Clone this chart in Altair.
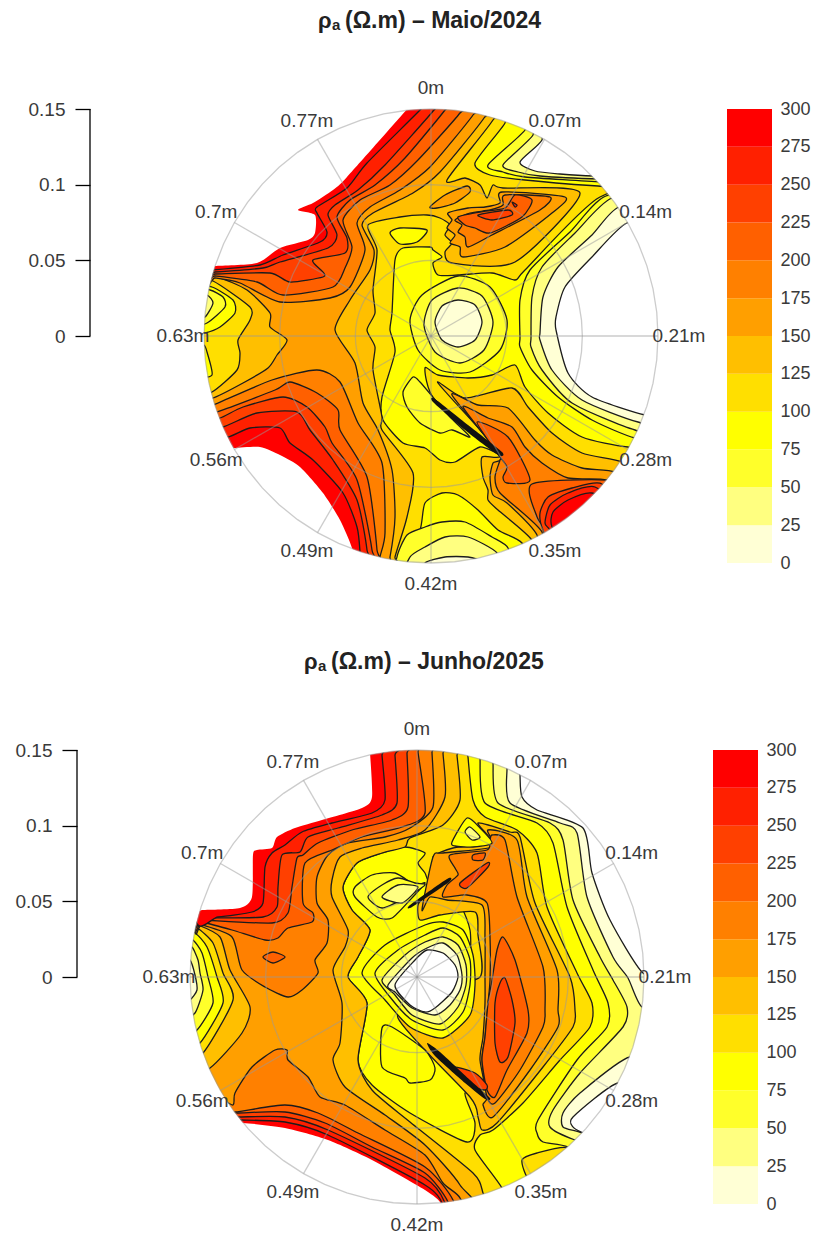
import math
import altair as alt
import pandas as pd

# picture reading: 227 units of the picture = 0.15 m of radius
K = 0.15 / 227
LEVELS = list(range(0, 300, 25))
COLORS = ["#FFFFD5", "#FFFF80", "#FFFF2A", "#FFFF00", "#FFDF00", "#FFBF00",
          "#FF9F00", "#FF8000", "#FF6000", "#FF4000", "#FF2000", "#FF0000"]
BAND = dict(zip(LEVELS, COLORS))
BAND[-25] = "#FFFFFF"
BAND[999] = "#111111"
SPOKE_LABELS = ["0m", "0.07m", "0.14m", "0.21m", "0.28m", "0.35m",
                "0.42m", "0.49m", "0.56m", "0.63m", "0.7m", "0.77m"]
Y_TICKS = [0, 0.05, 0.1, 0.15]
CB_TICKS = list(range(0, 325, 25))

# contour outlines: (band lower level, outlined?, vertices)
MAY = [
 (100, 0, [(200,105),(662,105),(662,567),(200,567)]),
 (75, 1, [(600,197),(525,270),(515,280),(492,273),(458,275),(438,275),(433,263),(442,257),(433,250),(430,247),(403,248),(395,260),(392,313),(390,330),(395,352),(382,397),(383,420),(403,443),(425,448),(440,460),(455,462),(480,447),(500,453),(435,400),(425,368),(438,375),(468,378),(492,375),(515,365),(525,387),(548,413),(582,437),(628,447),(670,447),(670,197)]),
 (75, 1, [(505,123),(475,163),(490,175),(525,180),(598,186),(640,186),(640,105),(505,105)]),
 (75, 1, [(403,557),(420,530),(425,503),(442,493),(458,495),(478,510),(498,530),(522,543),(535,575),(395,575)]),
 (50, 1, [(397,557),(407,535),(425,527),(442,522),(465,522),(492,537),(508,548),(510,575),(400,575)]),
 (25, 1, [(410,557),(425,547),(445,537),(468,537),(497,553),(497,575),(410,575)]),
 (0, 1, [(425,563),(445,557),(468,557),(483,562),(483,575),(425,575)]),
 (50, 1, [(525,130),(488,165),(503,172),(525,177),(602,182),(640,182),(640,110),(525,110)]),
 (25, 1, [(533,135),(503,165),(518,172),(540,176),(600,179),(640,179),(640,112),(533,112)]),
 (-25, 1, [(542,140),(520,162),(535,171),(560,174),(593,176),(640,176),(640,115),(542,115)]),
 (125, 1, [(493,120),(447,180),(465,178),(480,185),(487,198),(493,185),(503,188),(580,193),(515,262),(452,263),(445,252),(452,243),(445,235),(450,225),(440,218),(427,215),(400,217),(368,225),(377,250),(373,290),(375,313),(367,330),(375,347),(373,370),(382,417),(382,430),(413,473),(407,517),(395,557),(395,570),(205,565),(205,105),(493,105)]),
 (125, 1, [(438,383),(465,398),(512,388),(528,407),(552,433),(582,453),(622,462),(640,480),(590,560),(540,570),(532,540),(498,510),(488,500),(488,490),(483,477),(482,457),(500,453)]),
 (75, 1, [(390,233),(400,228),(427,230),(417,242),(400,244)]),
 (150, 1, [(484,118),(440,172),(413,193),(373,213),(362,225),(374,250),(370,270),(350,300),(335,330),(355,363),(363,403),(378,430),(392,470),(395,517),(390,557),(385,572),(205,565),(205,105),(484,105)]),
 (150, 1, [(430,207),(445,195),(467,186),(470,192),(455,203),(437,208)]),
 (150, 1, [(452,395),(478,405),(508,408),(535,440),(552,455),(582,468),(615,472),(640,490),(590,565),(540,570),(537,535),(507,503),(493,495),(490,477),(493,463),(500,455)]),
 (125, 1, [(217,277),(247,290),(270,313),(270,327),(287,340),(277,355),(268,368),(243,383),(213,398),(195,398),(195,277)]),
 (100, 1, [(213,281),(250,307),(250,320),(238,340),(240,353),(237,370),(212,392),(195,392),(195,281)]),
 (75, 1, [(212,287),(233,300),(235,313),(220,327),(205,333),(195,333),(195,287)]),
 (75, 1, [(204,345),(207,352),(212,375),(195,375),(195,345)]),
 (50, 1, [(210,290),(223,297),(225,307),(207,323),(195,323),(195,290)]),
 (25, 1, [(207,295),(213,303),(205,317),(195,317),(195,295)]),
 (175, 1, [(473,115),(430,167),(400,190),(370,207),(357,223),(365,250),(350,287),(330,298),(280,302),(240,283),(215,278),(205,278),(205,105),(473,105)]),
 (175, 1, [(213,405),(272,380),(317,370),(340,382),(358,423),(382,463),(385,533),(380,557),(380,570),(205,565),(205,405)]),
 (175, 1, [(463,407),(488,418),(512,427),(525,447),(542,463),(568,478),(607,480),(640,500),(600,565),(540,570),(542,532),(500,493),(495,477),(500,460),(500,455)]),
 (150, 1, [(502,192),(565,197),(552,213),(505,247),(463,257),(460,247),(450,243),(455,235),(447,228),(452,220),(448,213),(468,208),(485,207),(500,203)]),
 (175, 1, [(505,195),(550,197),(540,210),(492,235),(468,247),(465,237),(458,232),(462,225),(455,220),(470,213),(490,210),(503,205)]),
 (200, 1, [(515,195),(532,200),(522,217),(490,233),(475,228),(465,225),(458,217),(480,212),(505,208)]),
 (225, 1, [(478,215),(508,210),(512,215),(492,220)]),
 (250, 1, [(512,202),(517,205),(515,207)]),
 (200, 1, [(460,113),(418,160),(390,185),(360,200),(343,220),(352,247),(345,268),(333,287),(283,295),(257,282),(215,276),(205,276),(205,105),(460,105)]),
 (225, 1, [(445,110),(405,158),(375,185),(350,200),(337,217),(347,238),(345,253),(313,260),(323,272),(323,277),(290,282),(270,273),(215,274),(205,274),(205,105),(445,105)]),
 (250, 1, [(434,110),(385,165),(358,190),(335,205),(328,215),(337,235),(328,248),(280,262),(263,268),(215,272),(205,272),(205,105),(434,105)]),
 (275, 1, [(422,108),(367,163),(347,188),(317,207),(317,213),(327,232),(320,242),(283,255),(260,265),(213,270),(205,270),(205,105),(422,105)]),
 (-25, 0, [(408,108),(347,177),(333,190),(313,203),(298,210),(315,215),(315,233),(308,240),(280,248),(257,263),(215,266),(205,266),(205,105),(408,105)]),
 (200, 1, [(217,412),(275,390),(290,382),(317,393),(338,410),(340,430),(367,477),(377,550),(375,570),(205,565),(205,412)]),
 (225, 1, [(220,418),(243,407),(283,397),(307,407),(325,427),(332,443),(357,480),(372,550),(370,570),(205,565),(205,418)]),
 (250, 1, [(223,427),(257,413),(297,412),(310,430),(333,460),(357,500),(367,550),(365,570),(205,565),(205,427)]),
 (275, 1, [(228,437),(250,428),(280,428),(290,443),(313,460),(343,493),(357,527),(360,552),(360,570),(205,565),(205,437)]),
 (-25, 0, [(233,448),(260,447),(280,455),(300,467),(323,493),(340,520),(352,548),(355,570),(205,565),(205,448)]),
 (200, 1, [(477,422),(508,437),(530,480),(507,483),(503,477),(507,467),(497,453)]),
 (200, 1, [(532,484),(607,480),(650,490),(600,565),(540,570),(545,532),(537,517)]),
 (225, 1, [(602,484),(572,488),(548,497),(540,513),(543,530),(560,560),(620,520)]),
 (250, 1, [(595,487),(568,493),(550,505),(545,523),(550,530),(565,555),(620,515)]),
 (275, 1, [(592,493),(568,500),(553,512),(552,527),(570,550),(620,510)]),
 (50, 1, [(458,276),(490,287),(507,320),(500,350),(470,372),(440,370),(418,350),(410,320),(422,295)]),
 (25, 1, [(458,288),(482,296),(493,322),(484,350),(460,363),(435,352),(424,325),(432,300)]),
 (0, 1, [(458,300),(475,305),(482,322),(475,340),(458,347),(442,340),(435,322),(442,306)]),
 (50, 1, [(403,392),(413,377),(420,382),(437,402),(450,417),(470,437),(452,430),(440,433),(420,423),(407,407)]),
 (999, 0, [(435,399),(468,425),(502,452),(498,455),(465,430),(433,402)]),
 (50, 1, [(606,196),(570,232),(530,270),(520,300),(520,338),(520,347),(532,370),(558,397),(592,420),(635,438),(670,438),(670,197)]),
 (25, 1, [(612,198),(575,233),(542,267),(532,297),(531,338),(531,347),(542,370),(572,403),(635,430),(670,430),(670,198)]),
 (0, 1, [(619,207),(592,235),(558,267),(543,297),(540,333),(540,340),(552,370),(582,400),(638,422),(670,422),(670,207)]),
 (-25, 1, [(627,223),(592,257),(565,287),(556,317),(556,330),(568,373),(592,397),(645,415),(670,415),(670,223)]),
]

JUN = [
 (100, 0, [(186,746),(648,746),(648,1208),(186,1208)]),
 (75, 1, [(447,880),(470,930),(470,1000),(487,1097),(465,1093),(475,1123),(467,1142),(410,1113),(372,1085),(358,1060),(367,1003),(348,977),(358,957),(370,930),(352,910),(343,887),(357,863),(382,853),(405,847),(425,853),(418,863),(425,873),(430,883)]),
 (75, 1, [(468,757),(473,800),(485,817),(517,830),(537,853),(547,907),(577,973),(592,1003),(590,1027),(560,1060),(523,1103),(493,1130),(480,1135),(475,1150),(502,1188),(510,1215),(620,1170),(660,1060),(660,900),(600,750),(468,745)]),
 (100, 1, [(522,1160),(537,1153),(567,1148),(560,1175),(530,1180)]),
 (50, 1, [(480,758),(485,803),(537,823),(553,843),(567,907),(593,970),(608,1003),(607,1027),(577,1060),(538,1120),(537,1133),(543,1142),(568,1147),(600,1170),(660,1060),(660,900),(600,750),(480,745)]),
 (25, 1, [(493,763),(498,803),(550,823),(563,840),(573,900),(600,957),(613,980),(627,1007),(623,1027),(580,1073),(553,1110),(550,1127),(575,1140),(640,1160),(670,1000),(640,790),(560,750),(493,745)]),
 (0, 1, [(507,768),(510,803),(560,823),(577,833),(587,897),(613,957),(628,978),(642,1007),(670,1007),(650,800),(560,750),(507,750)]),
 (0, 1, [(630,1057),(580,1093),(563,1113),(563,1127),(582,1133),(620,1150),(660,1080)]),
 (-25, 1, [(520,775),(522,797),(537,810),(583,828),(592,873),(610,920),(643,973),(670,973),(650,810),(570,760),(520,755)]),
 (-25, 1, [(618,1083),(573,1117),(573,1127),(583,1133),(620,1150),(650,1100)]),
 (125, 1, [(457,755),(460,800),(443,825),(410,838),(405,847),(382,853),(357,863),(343,887),(352,910),(370,930),(358,957),(348,977),(367,1003),(358,1060),(372,1090),(410,1122),(473,1173),(483,1193),(490,1225),(215,1220),(195,1100),(195,745),(457,745)]),
 (150, 1, [(443,753),(445,797),(425,830),(398,840),(362,848),(340,857),(332,880),(332,897),(348,930),(345,947),(333,970),(342,1003),(340,1043),(333,1060),(345,1087),(385,1115),(425,1145),(460,1185),(470,1220),(215,1220),(195,1100),(195,745),(443,745)]),
 (125, 1, [(198,925),(220,937),(230,970),(250,1007),(242,1033),(210,1068),(190,1068),(190,925)]),
 (100, 1, [(197,928),(213,943),(223,973),(233,1000),(203,1053),(185,1053),(185,928)]),
 (75, 1, [(195,933),(207,947),(217,977),(223,1003),(200,1043),(185,1043),(185,933)]),
 (50, 1, [(193,940),(202,953),(208,977),(213,1003),(197,1030),(185,1030),(185,940)]),
 (25, 1, [(192,947),(198,960),(200,973),(203,990),(195,1013),(185,1013),(185,947)]),
 (0, 1, [(190,960),(195,975),(197,990),(190,1000),(183,1000),(183,960)]),
 (175, 1, [(432,752),(433,807),(410,828),(385,837),(348,843),(328,855),(317,877),(317,903),(328,920),(327,943),(315,960),(318,973),(302,990),(288,997),(265,987),(242,970),(232,937),(202,925),(195,925),(195,745),(432,745)]),
 (200, 1, [(263,957),(273,952),(285,957),(273,963)]),
 (200, 1, [(418,752),(425,813),(402,827),(362,837),(332,850),(305,863),(303,903),(313,913),(312,922),(288,928),(278,938),(265,940),(232,930),(202,922),(195,922),(195,745),(418,745)]),
 (225, 1, [(407,753),(408,807),(392,820),(352,830),(318,843),(303,855),(297,858),(292,887),(288,913),(272,923),(203,920),(195,920),(195,745),(407,745)]),
 (250, 1, [(395,755),(397,803),(382,815),(338,828),(308,837),(300,852),(282,855),(278,887),(277,907),(263,917),(205,918),(195,918),(195,745),(395,745)]),
 (275, 1, [(382,755),(385,800),(372,813),(332,823),(302,832),(285,845),(272,853),(265,867),(263,903),(252,912),(218,917),(195,917),(195,745),(382,745)]),
 (-25, 0, [(370,752),(372,797),(362,808),(322,820),(295,828),(277,837),(272,848),(257,850),(253,855),(252,897),(240,908),(202,910),(190,910),(195,745),(370,745)]),
 (175, 1, [(233,1105),(235,1093),(252,1067),(275,1050),(287,1050),(288,1060),(308,1077),(320,1097),(345,1105),(385,1130),(425,1155),(443,1183),(460,1198),(460,1225),(215,1220),(215,1105)]),
 (200, 1, [(235,1112),(285,1105),(318,1113),(358,1133),(425,1167),(453,1200),(453,1225),(215,1220),(215,1112)]),
 (225, 1, [(237,1113),(285,1112),(325,1123),(372,1147),(425,1173),(448,1202),(448,1225),(215,1220),(215,1113)]),
 (250, 1, [(238,1117),(285,1117),(328,1130),(425,1178),(445,1203),(445,1225),(215,1220),(215,1117)]),
 (275, 1, [(240,1120),(285,1122),(328,1135),(425,1185),(443,1205),(443,1225),(215,1220),(215,1120)]),
 (-25, 0, [(243,1123),(285,1128),(328,1140),(372,1160),(425,1190),(442,1205),(442,1230),(215,1220),(200,1123)]),
 (125, 1, [(478,823),(510,832),(520,837),(535,903),(570,977),(575,1010),(573,1027),(543,1067),(497,1123),(482,1130),(478,1117),(470,1097),(398,1018),(430,990),(480,977),(478,935),(475,912),(440,915),(420,920),(418,905),(425,895),(445,870),(433,857),(453,848),(492,843)]),
 (150, 1, [(488,830),(517,840),(527,897),(557,970),(558,1010),(558,1027),(530,1070),(493,1117),(483,1105),(487,1097),(480,1060),(483,1037),(485,1003),(485,977),(485,937),(482,905),(447,900),(430,897),(422,910),(433,857),(443,853),(492,847)]),
 (175, 1, [(492,835),(505,840),(517,897),(543,967),(545,1010),(543,1027),(520,1070),(495,1103),(487,1097),(482,1060),(485,1037),(488,1003),(490,980),(490,937),(487,903),(467,895),(443,897),(447,885),(458,875),(455,868),(450,855),(487,850),(490,840)]),
 (200, 1, [(503,937),(515,960),(528,1010),(527,1033),(507,1070),(495,1097),(487,1090),(482,1060),(485,1037),(488,1003),(492,980),(497,950)]),
 (225, 1, [(505,978),(512,1000),(515,1023),(508,1057),(500,1062),(495,1043),(495,1003),(500,983)]),
 (225, 1, [(453,1067),(475,1073),(487,1085),(485,1090),(470,1085)]),
 (225, 1, [(460,883),(487,863),(488,867),(467,888)]),
 (200, 1, [(473,855),(485,853),(483,860),(473,860)]),
 (75, 1, [(452,842),(467,818),(480,828),(492,843),(473,847),(455,846)]),
 (25, 1, [(465,832),(470,827),(480,837),(472,840)]),
 (75, 1, [(362,973),(385,945),(425,925),(443,922),(463,930),(473,955),(475,985),(470,1015),(443,1038),(410,1027),(385,1000)]),
 (50, 1, [(375,973),(398,950),(425,935),(443,928),(460,937),(470,960),(470,985),(463,1012),(443,1030),(412,1020),(390,997)]),
 (25, 1, [(382,980),(405,955),(425,942),(443,937),(458,945),(466,965),(466,985),(458,1007),(440,1024),(412,1015),(395,995)]),
 (0, 1, [(388,985),(412,958),(427,948),(443,943),(457,955),(462,975),(460,990),(450,1005),(435,1015),(412,1008),(395,992)]),
 (-25, 1, [(395,985),(415,960),(427,950),(443,953),(455,965),(458,977),(452,992),(435,1008),(425,1012),(410,1005)]),
 (50, 1, [(355,887),(372,875),(395,873),(415,885),(425,883),(410,900),(392,918),(377,917),(355,897)]),
 (50, 1, [(368,897),(382,885),(398,878),(415,883),(425,885),(405,898),(382,908)]),
 (25, 1, [(382,897),(398,885),(418,887),(402,903)]),
 (75, 1, [(382,1028),(392,1027),(425,1050),(435,1068),(430,1080),(410,1083),(405,1078),(382,1067)]),
 (999, 0, [(427,1043),(440,1052),(470,1080),(490,1098),(485,1099),(465,1083),(435,1056)]),
 (999, 0, [(410,905),(447,879),(449,882),(412,907)]),
]


def panel(polys, cx, cy, cb_x, date, axis_offset):
    def mx(p):
        return (p - cx) * K

    def my(p):
        return (cy - p) * K

    view_w = cb_x + 45 - 77
    x_dom = [mx(77), mx(77 + view_w)]
    y_scale = alt.Scale(domain=[-0.15, 0.15], nice=False, zero=False)
    y_axis = alt.Axis(values=Y_TICKS, format=".2~f", title=None, grid=False, domain=False,
                      tickSize=15, tickColor="#000", tickWidth=1.3, labelFontSize=19,
                      labelFont="Liberation Sans", labelColor="#3a3a3a", labelPadding=10,
                      offset=axis_offset, zindex=1)
    X = lambda f: alt.X(f, type="quantitative", scale=alt.Scale(domain=x_dom, nice=False, zero=False), axis=None)
    Y = lambda f: alt.Y(f, type="quantitative", scale=y_scale, axis=y_axis)

    rows = []
    for i, (lev, line, pts) in enumerate(polys):
        for j, (px, py) in enumerate(pts):
            rows.append({"id": f"p{i:03d}", "o": j, "x": mx(px), "y": my(py),
                         "f": BAND[lev], "sw": 1.3 if line else 0})
    fills = alt.Chart(pd.DataFrame(rows)).mark_line(interpolate="cardinal-closed", tension=0.3, stroke="#1c1c1c").encode(
        x=X("x"), y=Y("y"),
        fill=alt.Fill("f:N", scale=None),
        strokeWidth=alt.StrokeWidth("sw:Q", scale=None),
        detail="id:N", order="o:Q",
    )
    mask = alt.Chart(pd.DataFrame({"x": [0.0], "y": [0.0]})).mark_arc(
        radius=227, radius2=328, theta=0, theta2=2 * math.pi, fill="#FFFFFF"
    ).encode(x=X("x"), y=Y("y"))

    # polar grid
    circ = []
    for r in (0.05, 0.10, 0.15):
        for a in range(0, 361, 6):
            t = math.radians(a)
            circ.append({"r": r, "a": a, "x": r * math.sin(t), "y": r * math.cos(t)})
    circles = alt.Chart(pd.DataFrame(circ)).mark_line(stroke="#9a9a9a", strokeWidth=1.3, opacity=0.5).encode(
        x=X("x"), y=Y("y"), detail="r:N", order="a:Q")
    sp = []
    lab = []
    for i, t in enumerate(SPOKE_LABELS):
        th = math.radians(30 * i)
        sp.append({"x": 0.0, "y": 0.0, "x2": 0.15 * math.sin(th), "y2": 0.15 * math.cos(th)})
        lab.append({"t": t, "x": 248 * K * math.sin(th), "y": 248 * K * math.cos(th)})
    spokes = alt.Chart(pd.DataFrame(sp)).mark_rule(stroke="#9a9a9a", strokeWidth=1.3, opacity=0.5).encode(
        x=X("x"), y=Y("y"), x2="x2:Q", y2="y2:Q")
    labels = alt.Chart(pd.DataFrame(lab)).mark_text(
        fontSize=19, font="Liberation Sans", color="#3a3a3a", align="center", baseline="middle"
    ).encode(x=X("x"), y=Y("y"), text="t:N")

    # left scale bar line
    bar = alt.Chart(pd.DataFrame({"x": [mx(77 - axis_offset)], "y": [0.0], "y2": [0.15]})).mark_rule(
        stroke="#000", strokeWidth=1.3).encode(x=X("x"), y=Y("y"), y2="y2:Q")

    # title pieces
    tx = cx - 113
    ty = cy - (336 - 21)
    title = pd.DataFrame([
        {"t": "\u03c1", "x": mx(tx), "y": my(ty), "s": 22},
        {"t": "a", "x": mx(tx + 14), "y": my(ty + 4), "s": 15},
        {"t": f"(\u03a9.m) \u2013 {date}", "x": mx(tx + 27), "y": my(ty), "s": 23},
    ])
    titles = alt.Chart(title).mark_text(
        font="Liberation Sans", fontWeight="bold", color="#222", align="left", baseline="middle"
    ).encode(x=X("x"), y=Y("y"), text="t:N", size=alt.Size("s:Q", scale=None))

    # colour bar on its own 0-300 scale
    cb = pd.DataFrame({"lo": LEVELS, "hi": [v + 25 for v in LEVELS], "c": COLORS,
                       "x": [mx(cb_x)] * 12, "x2": [mx(cb_x + 45)] * 12})
    bar_rects = alt.Chart(cb).mark_rect().encode(
        x=X("x"), x2="x2:Q",
        y=alt.Y("lo:Q", scale=alt.Scale(domain=[0, 300], nice=False, zero=False),
                axis=alt.Axis(orient="right", values=CB_TICKS, title=None, grid=False, domain=False,
                              ticks=False, labelFontSize=18, labelFont="Liberation Sans",
                              labelColor="#3a3a3a", labelPadding=8)),
        y2="hi:Q",
        fill=alt.Fill("c:N", scale=None),
    )
    main = alt.layer(fills, mask, circles, spokes, bar, labels, titles)
    return alt.layer(main, bar_rects).resolve_scale(y="independent").properties(width=view_w, height=454)


chart = alt.vconcat(panel(MAY, 431, 336, 727, "Maio/2024", -13),
                    panel(JUN, 417, 977, 713, "Junho/2025", 0),
                    spacing=187, bounds="flush").properties(
    padding={"left": 7, "top": 0, "right": 0, "bottom": 0}, background="white"
).configure_view(stroke=None)

chart.save("out.html", embed_options={"renderer": "svg", "actions": False})
